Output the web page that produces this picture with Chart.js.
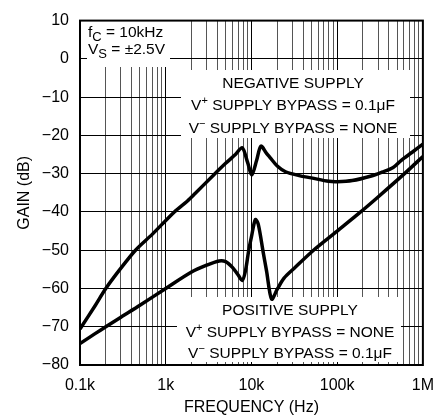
<!DOCTYPE html>
<html>
<head>
<meta charset="utf-8">
<script src="https://cdn.jsdelivr.net/npm/chart.js@4/dist/chart.umd.min.js"></script>
<style>
  html, body { margin: 0; padding: 0; background: #fff; }
  #wrap { width: 445px; height: 419px; }
</style>
</head>
<body>
<div id="wrap"><canvas id="gainChart" width="445" height="419"></canvas></div>
<script>
// negative supply: V+ bypassed with 0.1uF, V- unbypassed
const freqNeg = [100, 150, 200, 300, 444, 700, 1260, 1780, 2200, 3600, 5000, 6500, 7800, 9000, 10100,
  11500, 12900, 15000, 16500, 20000, 25000, 36000, 50000, 80000, 100000, 150000, 250000, 333000, 450000,
  560000, 750000, 1000000];
const gainNeg = [-70.6, -64.5, -60, -54.7, -50, -45.8, -40, -37.2, -35.2, -30.4, -27.3, -25, -23.2, -27, -30.3,
  -26.5, -22.8, -24.7, -25.8, -28, -29.5, -30.5, -31.1, -32, -32.1, -31.8, -30.6, -29.6, -28.4,
  -26.5, -24.4, -22.3];

// positive supply: V+ unbypassed, V- bypassed with 0.1uF
const freqPos = [100, 150, 200, 300, 500, 1000, 2000, 3000, 4200, 5000, 6000, 7000, 7800, 8500, 9300,
  10000, 11100, 12000, 13700, 15000, 17200, 20000, 24000, 31600, 53000, 100000, 188000, 300000, 610000, 1000000];
const gainPos = [-74.4, -71.8, -70, -67.5, -64.4, -60, -55.7, -53.9, -52.8, -53, -54.5, -56.5, -57.9, -55.5, -50,
  -46.5, -42, -43.2, -50.5, -55.4, -62.8, -60.2, -57.3, -54.7, -50, -45, -40, -36.1, -30, -25.5];

const xTickValues = [100, 1000, 10000, 100000, 1000000];
const xTickLabels = ['0.1k', '1k', '10k', '100k', '1M'];
const yTickValues = [10, 0, -10, -20, -30, -40, -50, -60, -70, -80];

const FONT = '"Liberation Sans", Arial, sans-serif';

// every 1..9 multiple of each decade gets a grid line
const xGridValues = [];
for (let d = 100; d < 1000000; d *= 10) {
  for (let m = 1; m < 10; m++) xGridValues.push(d * m);
}
xGridValues.push(1000000);

function toPoints(xs, ys) {
  return xs.map((x, i) => ({ x: x, y: ys[i] }));
}

// draws a line made of normal / sub / sup pieces
function drawRich(ctx, parts, x, y, align) {
  const big = '15.5px ' + FONT;
  const small = '11px ' + FONT;
  const sub = '13px ' + FONT;
  let total = 0;
  parts.forEach(p => {
    ctx.font = p[1] === 'sup' ? small : (p[1] === 'sub' ? sub : big);
    p.w = ctx.measureText(p[0]).width;
    total += p.w;
  });
  let cx = align === 'center' ? x - total / 2 : x;
  parts.forEach(p => {
    let dy = 0;
    if (p[1] === 'sup') { ctx.font = small; dy = -6; }
    else if (p[1] === 'sub') { ctx.font = sub; dy = 4; }
    else ctx.font = big;
    ctx.fillText(p[0], cx, y + dy);
    cx += p.w;
  });
}

const notes = {
  id: 'notes',
  beforeDatasetsDraw(chart) {
    const ctx = chart.ctx;
    const a = chart.chartArea;
    ctx.save();
    // white panels behind the labels
    ctx.fillStyle = '#fff';
    ctx.fillRect(87, 16, 83, 51);
    ctx.fillRect(181, 70, 229, 68);
    ctx.fillRect(177, 297, 224, 65);

    // frame
    ctx.strokeStyle = '#000';
    ctx.lineWidth = 2;
    ctx.strokeRect(a.left, a.top, a.right - a.left, a.bottom - a.top);

    ctx.fillStyle = '#000';
    ctx.textAlign = 'left';
    ctx.textBaseline = 'alphabetic';
    drawRich(ctx, [['f', ''], ['C', 'sub'], [' = 10kHz', '']], 88, 37, 'left');
    drawRich(ctx, [['V', ''], ['S', 'sub'], [' = \u00b12.5V', '']], 88, 54, 'left');

    drawRich(ctx, [['NEGATIVE SUPPLY', '']], 293, 88, 'center');
    drawRich(ctx, [['V', ''], ['+', 'sup'], [' SUPPLY BYPASS = 0.1\u03bcF', '']], 293, 110, 'center');
    drawRich(ctx, [['V', ''], ['\u2212', 'sup'], [' SUPPLY BYPASS = NONE', '']], 293, 133, 'center');

    drawRich(ctx, [['POSITIVE SUPPLY', '']], 290, 315, 'center');
    drawRich(ctx, [['V', ''], ['+', 'sup'], [' SUPPLY BYPASS = NONE', '']], 290, 337, 'center');
    drawRich(ctx, [['V', ''], ['\u2212', 'sup'], [' SUPPLY BYPASS = 0.1\u03bcF', '']], 290, 358, 'center');
    ctx.restore();
  }
};

const ctx = document.getElementById('gainChart').getContext('2d');
new Chart(ctx, {
  type: 'line',
  data: {
    datasets: [
      {
        label: 'NEGATIVE SUPPLY',
        data: toPoints(freqNeg, gainNeg),
        borderColor: '#000',
        borderWidth: 3.5,
        pointRadius: 0,
        tension: 0.3,
        fill: false
      },
      {
        label: 'POSITIVE SUPPLY',
        data: toPoints(freqPos, gainPos),
        borderColor: '#000',
        borderWidth: 3.5,
        pointRadius: 0,
        tension: 0.3,
        fill: false
      }
    ]
  },
  options: {
    responsive: false,
    animation: false,
    devicePixelRatio: 1,
    layout: { padding: { left: 0, right: 13, top: 13, bottom: 0 } },
    plugins: {
      legend: { display: false },
      tooltip: { enabled: false }
    },
    scales: {
      x: {
        type: 'logarithmic',
        min: 100,
        max: 1000000,
        afterBuildTicks(scale) {
          scale.ticks = xGridValues.map(v => ({ value: v }));
        },
        afterFit(scale) { scale.height = 54; },
        grid: {
          drawTicks: false,
          lineWidth: 1,
          color: c => (xTickValues.includes(c.tick && c.tick.value) ? '#000' : '#555')
        },
        border: { display: false },
        ticks: {
          autoSkip: false,
          maxRotation: 0,
          padding: 11,
          color: '#000',
          font: { family: FONT, size: 16 },
          callback(value) {
            const i = xTickValues.indexOf(value);
            return i >= 0 ? xTickLabels[i] : '';
          }
        },
        title: {
          display: true,
          text: 'FREQUENCY (Hz)',
          color: '#000',
          font: { family: FONT, size: 16 },
          padding: { top: 0, bottom: 2 }
        }
      },
      y: {
        min: -80,
        max: 10,
        afterBuildTicks(scale) {
          scale.ticks = yTickValues.map(v => ({ value: v }));
        },
        afterFit(scale) { scale.width = 80; },
        grid: { drawTicks: false, lineWidth: 1, color: '#000' },
        border: { display: false },
        ticks: {
          padding: 11,
          color: '#000',
          font: { family: FONT, size: 16 },
          callback: v => (v < 0 ? '\u2212' + Math.abs(v) : String(v))
        },
        title: {
          display: true,
          text: 'GAIN (dB)',
          color: '#000',
          font: { family: FONT, size: 16 },
          padding: { top: 15, bottom: 0 }
        }
      }
    }
  },
  plugins: [notes]
});
</script>
</body>
</html>
